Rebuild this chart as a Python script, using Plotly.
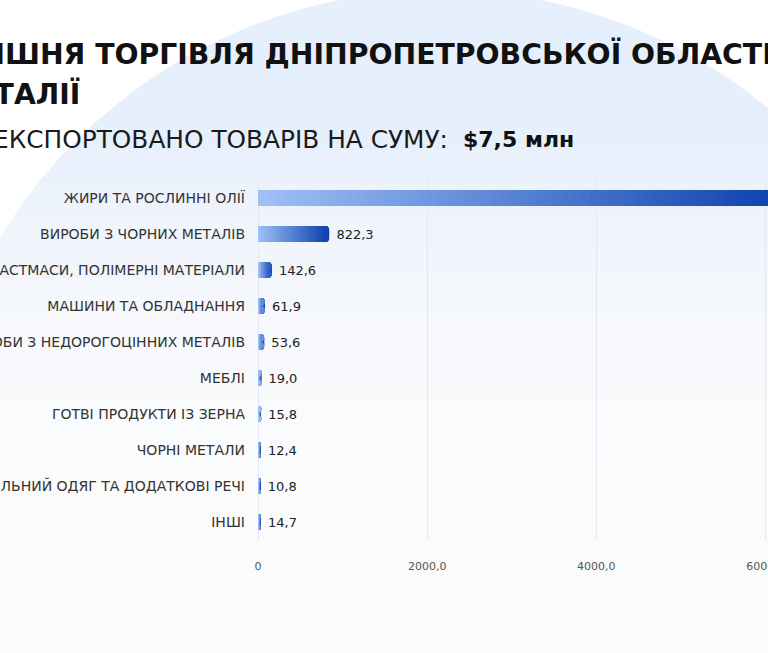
import plotly.graph_objects as go

# --- data (thousand USD) ---
categories = [
    "ЖИРИ ТА РОСЛИННІ ОЛІЇ",
    "ВИРОБИ З ЧОРНИХ МЕТАЛІВ",
    "ПЛАСТМАСИ, ПОЛІМЕРНІ МАТЕРІАЛИ",
    "МАШИНИ ТА ОБЛАДНАННЯ",
    "ВИРОБИ З НЕДОРОГОЦІННИХ МЕТАЛІВ",
    "МЕБЛІ",
    "ГОТВІ ПРОДУКТИ ІЗ ЗЕРНА",
    "ЧОРНІ МЕТАЛИ",
    "ТЕКСТИЛЬНИЙ ОДЯГ ТА ДОДАТКОВІ РЕЧІ",
    "ІНШІ",
]
values = [6346.9, 822.3, 142.6, 61.9, 53.6, 19.0, 15.8, 12.4, 10.8, 14.7]
tick_vals = [0, 2000, 4000, 6000]
tick_text = ["0", "2000,0", "4000,0", "6000,0"]

title_line1 = "ЗОВНІШНЯ ТОРГІВЛЯ ДНІПРОПЕТРОВСЬКОЇ ОБЛАСТІ"
title_line2 = "ТА ІТАЛІЇ"
subtitle = "ЕКСПОРТОВАНО ТОВАРІВ НА СУМУ:"
total_text = "$7,5 млн"

# --- layout geometry (px) ---
W, H = 768, 653
ML, MR, MT, MB = 258, 0, 180, 113
PW, PH = W - ML - MR, H - MT - MB
x_max = 6030


def px_x(p):
    return (p - ML) / PW


def px_y(p):
    return (H - MB - p) / PH


light = (161, 194, 247)
dark = (10, 62, 174)
n_steps = 60
pad = 20  # minimum visible bar length

fig = go.Figure()

# gradient bars: stacked overlay layers, darkest (full length) first
for k in range(n_steps, 0, -1):
    t = k / n_steps
    c = tuple(round(light[i] + (dark[i] - light[i]) * t) for i in range(3))
    full = k == n_steps
    fig.add_trace(go.Bar(
        y=categories,
        x=[(v + pad) * t for v in values],
        orientation="h",
        marker=dict(color="rgb(%d,%d,%d)" % c, line=dict(width=0), cornerradius=4),
        text=[" " + f"{v:.1f}".replace(".", ",") for v in values] if full else None,
        textposition="outside" if full else "none",
        textfont=dict(size=13, color="#222", family="DejaVu Sans"),
        cliponaxis=True,
        hoverinfo="skip",
        showlegend=False,
    ))

# background decoration
cx, cy, r = 440, 505, 515
shapes = [
    dict(type="circle", xref="paper", yref="paper",
         x0=px_x(cx - r), x1=px_x(cx + r), y0=px_y(cy + r), y1=px_y(cy - r),
         fillcolor="#e6effc", line=dict(width=0), layer="below"),
]
for i in range(14):
    y_top = 150 + i * 32
    shapes.append(dict(type="rect", xref="paper", yref="paper",
                       x0=px_x(-20), x1=px_x(W + 20), y0=px_y(H + 20), y1=px_y(y_top),
                       fillcolor="white", opacity=0.17, line=dict(width=0), layer="below"))

annotations = [
    dict(text=title_line1, xref="paper", yref="paper", x=px_x(-97), y=px_y(54),
         xanchor="left", yanchor="middle", showarrow=False,
         font=dict(size=28.3, color="#111", family="DejaVu Sans", weight="bold")),
    dict(text=title_line2, xref="paper", yref="paper", x=px_x(-69), y=px_y(94),
         xanchor="left", yanchor="middle", showarrow=False,
         font=dict(size=28.3, color="#111", family="DejaVu Sans", weight="bold")),
    dict(text=subtitle, xref="paper", yref="paper", x=px_x(-9), y=px_y(139),
         xanchor="left", yanchor="middle", showarrow=False,
         font=dict(size=24.8, color="#1a1a1a", family="DejaVu Sans")),
    dict(text=total_text, xref="paper", yref="paper", x=px_x(461), y=px_y(139),
         xanchor="left", yanchor="middle", showarrow=False,
         font=dict(size=22, color="#111", family="DejaVu Sans", weight="bold")),
]

fig.update_layout(
    width=W, height=H,
    margin=dict(l=ML, r=MR, t=MT, b=MB, autoexpand=False),
    barmode="overlay",
    bargap=0.555,
    separators=", ",
    paper_bgcolor="white",
    plot_bgcolor="rgba(0,0,0,0)",
    shapes=shapes,
    annotations=annotations,
    xaxis=dict(range=[0, x_max], tickvals=tick_vals, ticktext=tick_text,
               showgrid=True, gridcolor="#e3e8ef", gridwidth=1,
               zeroline=True, zerolinecolor="#e3e8ef", zerolinewidth=1,
               ticks="", ticklabelstandoff=18, automargin=False,
               ticklabeloverflow="allow",
               tickfont=dict(size=11, color="#555", family="DejaVu Sans")),
    yaxis=dict(autorange="reversed", showgrid=False, zeroline=False,
               ticks="", ticklabelstandoff=12, automargin=False,
               tickfont=dict(size=14, color="#333", family="DejaVu Sans")),
)

fig.write_html("out.html", config={"displayModeBar": False},
               post_script="document.body.style.margin = '0';")
